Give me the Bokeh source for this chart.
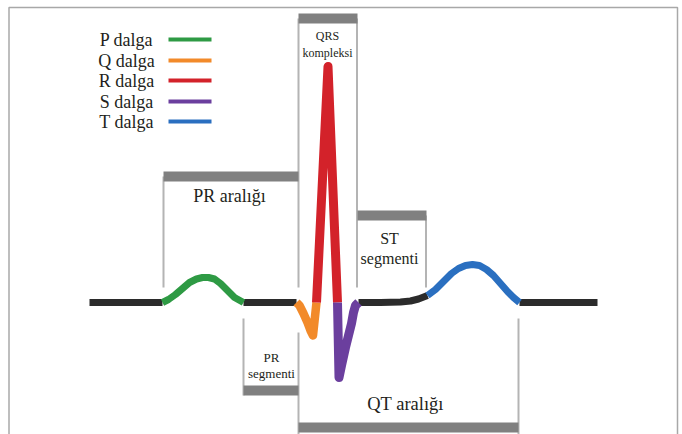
from bokeh.plotting import figure
from bokeh.models import Range1d
from bokeh.embed import file_html
from bokeh.resources import INLINE
from bokeh.core.properties import value

# ---- ECG waveform (x: diagram time units, y: amplitude, baseline = 0) ----
lead_in_x = [89, 162]
lead_in_y = [0, 0]
p_wave_x = [162, 168, 175, 182, 189, 196, 202, 208, 214, 220, 227, 234, 243]
p_wave_y = [0, 3, 8, 14, 20, 23.5, 25, 25, 23.5, 19, 12, 5, 0]
pr_seg_x = [243, 296]
pr_seg_y = [0, 0]
q_wave_x = [296, 299, 303, 307, 310, 312.5, 316]
q_wave_y = [0, -3, -11, -20, -28, -33, 0]
r_wave_x = [316, 327.5, 337]
r_wave_y = [0, 236, 0]
s_wave_x = [337, 338.5, 341, 345, 348, 351, 353, 355, 358]
s_wave_y = [0, -75, -63, -45, -33, -21, -10, -3, 0]
st_seg_x = [358, 380, 400, 410, 418, 427]
st_seg_y = [0, 0, 0.5, 1.5, 3.5, 7]
t_wave_x = [427, 435, 443, 451, 458, 465, 472, 479, 486, 493, 500, 507, 513, 519]
t_wave_y = [7, 13, 21, 29, 34, 37, 38, 37, 33, 27, 19, 11, 5, 0]
lead_out_x = [519, 597]
lead_out_y = [0, 0]

# ---- legend ----
legend_labels = ["P dalga", "Q dalga", "R dalga", "S dalga", "T dalga"]
legend_colors = ["#2e9a44", "#f28a2a", "#d3222a", "#6b3f9e", "#2a6fc0"]
legend_level = [263, 242, 222, 201, 181]

# ---- interval brackets ----
bar_start = [163, 298, 357, 243, 298]
bar_end = [298, 357, 426, 298, 518]
bar_level = [126, 284, 87, -88, -125]

guide_x = [163, 298, 356.5, 425.5, 243, 298, 518]
guide_top = [126, 284, 284, 87, -16, -30, -16]
guide_bottom = [15, 15, 15, 15, -93, -132, -132]

label_text = ["PR aralığı", "QRS", "kompleksi", "ST", "segmenti", "PR", "segmenti", "QT aralığı"]
label_x = [229, 327, 327, 389, 389, 271, 271, 405]
label_y = [107, 267, 250, 64, 44, -55, -71, -101]
label_size = ["18px", "12px", "12px", "16px", "16px", "13px", "13px", "18.5px"]

W, H = 682, 434
TOP = 302
p = figure(width=W, height=H, output_backend="svg", toolbar_location=None,
           x_range=Range1d(0, W), y_range=Range1d(TOP - H, TOP),
           x_axis_type=None, y_axis_type=None, min_border=0,
           outline_line_color=None, background_fill_color="white")
p.grid.visible = False

# frame (left, top, right)
p.line([8.5, 8.5, 677, 677], [TOP - H, TOP - 7, TOP - 7, TOP - H], line_color="#a8a8a8", line_width=1.5)

# guides
p.segment(x0=guide_x, y0=guide_top, x1=guide_x, y1=guide_bottom, line_color="#b4b4b4", line_width=2)
# bars
p.hbar(y=bar_level, height=10, left=bar_start, right=bar_end, fill_color="#808080", line_color=None)

# ECG
black = "#2b2b2b"
for xs, ys, c, lw in [
    (lead_in_x, lead_in_y, black, 7),
    (pr_seg_x, pr_seg_y, black, 7),
    (st_seg_x, st_seg_y, black, 7),
    (lead_out_x, lead_out_y, black, 7),
    (p_wave_x, p_wave_y, legend_colors[0], 7),
    (q_wave_x, q_wave_y, legend_colors[1], 8.5),
    (r_wave_x, r_wave_y, legend_colors[2], 9),
    (s_wave_x, s_wave_y, legend_colors[3], 9),
    (t_wave_x, t_wave_y, legend_colors[4], 7),
]:
    p.line(xs, ys, line_color=c, line_width=lw, line_join="round", line_cap="butt")

# legend
for lab, col, lv in zip(legend_labels, legend_colors, legend_level):
    p.line([168, 211], [lv, lv], line_color=col, line_width=4)
p.text(x=[126] * len(legend_labels), y=legend_level, text=legend_labels,
       text_font=value("Liberation Serif"), text_font_size="18px",
       text_align="center", text_baseline="middle", text_color="#231f20")

# labels
for t, x, y, s in zip(label_text, label_x, label_y, label_size):
    p.text(x=[x], y=[y], text=[t], text_font=value("Liberation Serif"), text_font_size=s,
           text_align="center", text_baseline="middle", text_color="#231f20")

open("out.html", "w").write(file_html(p, INLINE))
